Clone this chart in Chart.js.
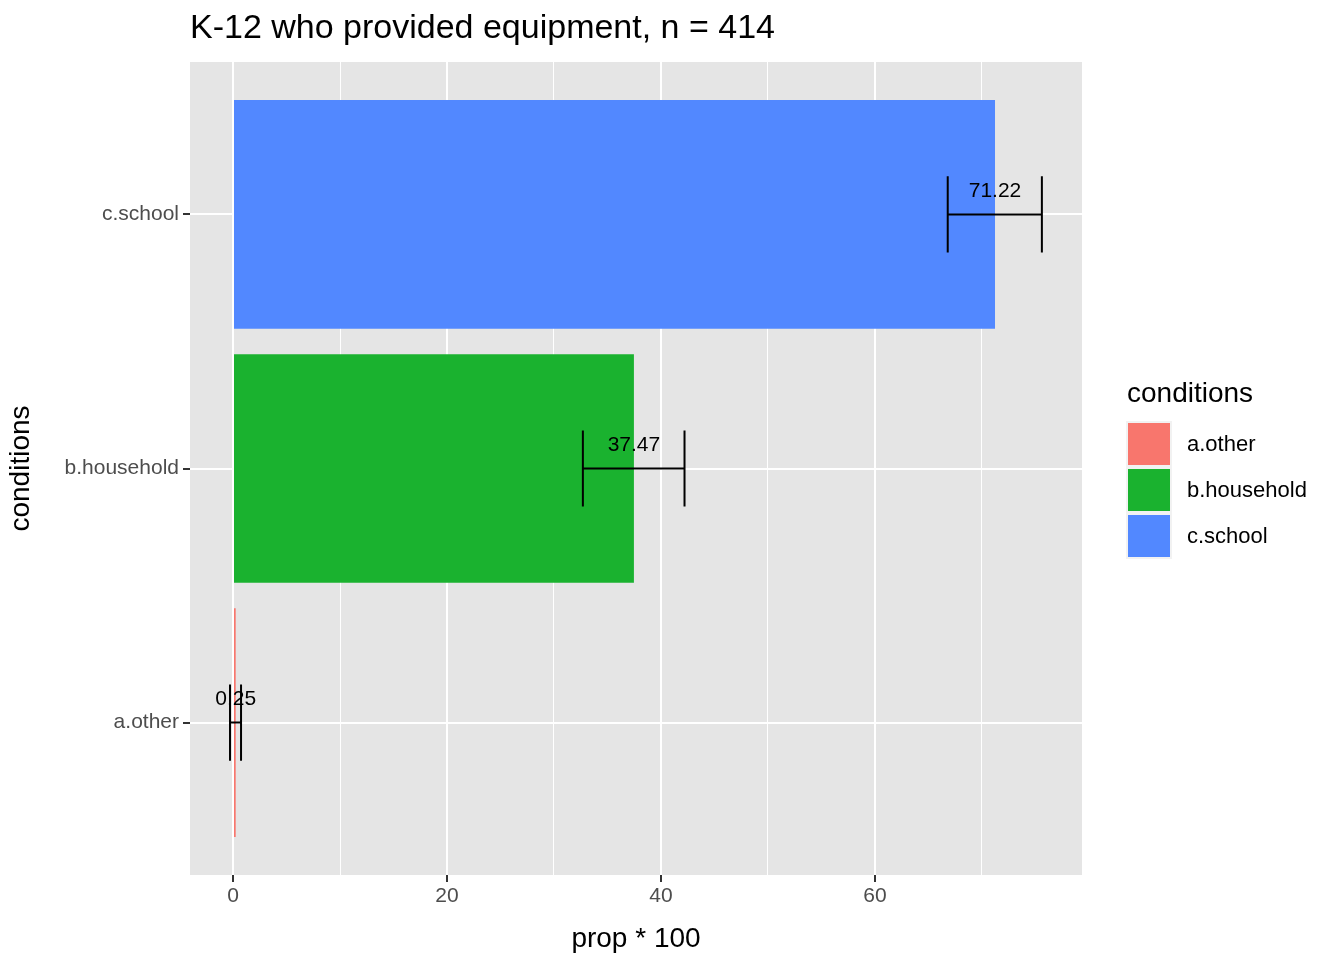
<!DOCTYPE html>
<html>
<head>
<meta charset="utf-8">
<script src="https://cdn.jsdelivr.net/npm/chart.js@4"></script>
<style>
  body { margin: 0; background: #fff; }
  #wrap { width: 1344px; height: 960px; }
</style>
</head>
<body>
<div id="wrap"><canvas id="chart"></canvas></div>
<script>
const categories = ['a.other', 'b.household', 'c.school']
const values = [0.25, 37.47, 71.22]
const err_low = [-0.28, 32.7, 66.8]
const err_high = [0.75, 42.2, 75.6]
const value_labels = ['0.25', '37.47', '71.22']
const colors = ['#F8766D', '#1AB22F', '#5288FF']

const font_family = 'Arial, "Liberation Sans", sans-serif'
const tick_color = '#4d4d4d'

// ggplot look: grey panel, title, error bars, value labels and legend
const gg_plugin = {
    id: 'gg',
    beforeDraw(chart) {
        const a = chart.chartArea
        const ctx = chart.ctx
        ctx.save()
        ctx.fillStyle = '#e5e5e5'
        ctx.fillRect(a.left, a.top, a.right - a.left, a.bottom - a.top)
        ctx.restore()
    },
    afterDatasetsDraw(chart) {
        const ctx = chart.ctx
        const xs = chart.scales.x
        const ys = chart.scales.y
        ctx.save()
        ctx.strokeStyle = '#000'
        ctx.lineWidth = 2
        categories.forEach((c, i) => {
            const y = ys.getPixelForValue(i + 1)
            const cap = ys.getPixelForValue(i + 1.15) - y
            const x1 = xs.getPixelForValue(err_low[i])
            const x2 = xs.getPixelForValue(err_high[i])
            ctx.beginPath()
            ctx.moveTo(x1, y); ctx.lineTo(x2, y)
            ctx.moveTo(x1, y - cap); ctx.lineTo(x1, y + cap)
            ctx.moveTo(x2, y - cap); ctx.lineTo(x2, y + cap)
            ctx.stroke()
            ctx.fillStyle = '#000'
            ctx.font = '21px ' + font_family
            ctx.textAlign = 'center'
            ctx.textBaseline = 'middle'
            ctx.fillText(value_labels[i], xs.getPixelForValue(values[i]), y - 23)
        })

        // title
        ctx.fillStyle = '#000'
        ctx.textAlign = 'left'
        ctx.textBaseline = 'middle'
        ctx.font = '34px ' + font_family
        ctx.fillText('K-12 who provided equipment, n = 414', 190, 29)

        // legend
        ctx.font = '28px ' + font_family
        ctx.fillText('conditions', 1127, 394)
        ctx.font = '22px ' + font_family
        categories.forEach((c, i) => {
            const top = 422 + i * 46
            ctx.fillStyle = '#f2f2f2'
            ctx.fillRect(1126, top - 1, 46, 46)
            ctx.fillStyle = colors[i]
            ctx.fillRect(1128, top + 1, 42, 42)
            ctx.fillStyle = '#000'
            ctx.fillText(c, 1187, top + 23)
        })
        ctx.restore()
    }
}

new Chart('chart', {
    type: 'bar',
    data: {
        datasets: [{
            data: values.map((v, i) => ({ x: v, y: i + 1 })),
            backgroundColor: colors,
            borderWidth: 0,
            barPercentage: 0.9,
            categoryPercentage: 1
        }]
    },
    options: {
        indexAxis: 'y',
        responsive: true,
        maintainAspectRatio: false,
        animation: false,
        layout: { padding: { top: 62, right: 262, left: 0, bottom: 0 } },
        plugins: { legend: { display: false }, tooltip: { enabled: false } },
        scales: {
            x: {
                type: 'linear',
                min: -4.02,
                max: 79.35,
                afterBuildTicks: s => { s.ticks = [0, 10, 20, 30, 40, 50, 60, 70].map(v => ({ value: v })) },
                afterFit: s => { s.height = 85 },
                border: { display: false },
                grid: {
                    color: '#ffffff',
                    lineWidth: c => (c.tick && c.tick.value % 20 === 0) ? 2 : 1,
                    tickColor: c => (c.tick && c.tick.value % 20 === 0) ? '#333333' : 'rgba(0,0,0,0)',
                    tickLength: 7
                },
                ticks: {
                    autoSkip: false,
                    maxRotation: 0,
                    color: tick_color,
                    font: { size: 21, family: font_family },
                    padding: 2,
                    callback: v => v % 20 === 0 ? v : ''
                },
                title: {
                    display: true,
                    text: 'prop * 100',
                    color: '#000',
                    font: { size: 28, family: font_family },
                    padding: { top: 2 }
                }
            },
            y: {
                type: 'linear',
                offset: false,
                min: 0.4,
                max: 3.6,
                afterBuildTicks: s => { s.ticks = [1, 2, 3].map(v => ({ value: v })) },
                afterFit: s => { s.width = 190 },
                border: { display: false },
                grid: {
                    offset: false,
                    color: '#ffffff',
                    lineWidth: 2,
                    tickColor: '#333333',
                    tickLength: 7
                },
                ticks: {
                    color: tick_color,
                    font: { size: 21, family: font_family },
                    padding: 4,
                    callback: v => categories[v - 1]
                },
                title: {
                    display: true,
                    text: 'conditions',
                    color: '#000',
                    font: { size: 28, family: font_family },
                    padding: { bottom: 2 }
                }
            }
        }
    },
    plugins: [gg_plugin]
})
</script>
</body>
</html>
